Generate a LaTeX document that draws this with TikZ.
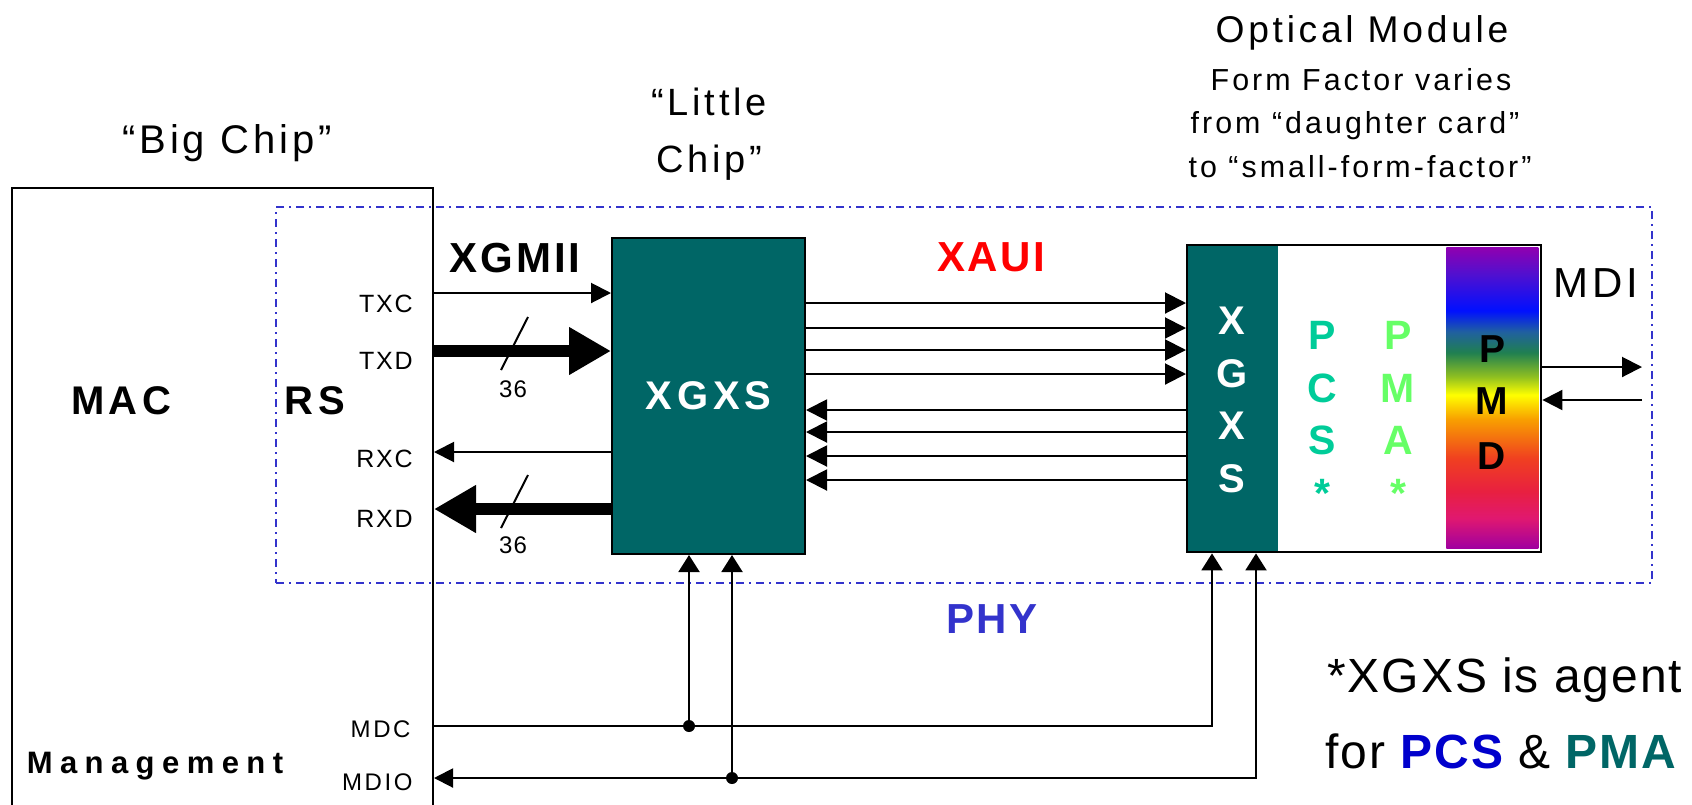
\documentclass[tikz,border=0pt]{standalone}
\usepackage{fontspec}
\setmainfont{Liberation Sans}[LetterSpace=10]
\usetikzlibrary{arrows.meta,positioning}

\definecolor{xgteal}{HTML}{006666}
\definecolor{phyblue}{HTML}{3333CC}
\definecolor{pcsgreen}{HTML}{00CC99}
\definecolor{pmagreen}{HTML}{66FF66}
\definecolor{pcsblue}{HTML}{0000CC}
\definecolor{xauired}{HTML}{FF0000}
% PMD spectrum, bottom to top
\definecolor{pmdA}{HTML}{A000A0}
\definecolor{pmdB}{HTML}{E01870}
\definecolor{pmdC}{HTML}{E82040}
\definecolor{pmdD}{HTML}{F04020}
\definecolor{pmdE}{HTML}{F8A000}
\definecolor{pmdF}{HTML}{FFFF00}
\definecolor{pmdG}{HTML}{90C020}
\definecolor{pmdH}{HTML}{208050}
\definecolor{pmdI}{HTML}{2060A0}
\definecolor{pmdJ}{HTML}{0010FF}
\definecolor{pmdK}{HTML}{5010D0}
\definecolor{pmdL}{HTML}{9000B0}
\pgfdeclareverticalshading{pmdshade}{100bp}{color(0bp)=(pmdA); color(25bp)=(pmdA);
  color(30bp)=(pmdB); color(34.5bp)=(pmdC); color(40bp)=(pmdD); color(46.5bp)=(pmdE);
  color(50.5bp)=(pmdF); color(53.5bp)=(pmdG); color(57.5bp)=(pmdH); color(61bp)=(pmdI);
  color(64.5bp)=(pmdJ); color(70.5bp)=(pmdK); color(75bp)=(pmdL); color(100bp)=(pmdL)}

\newcommand{\fsz}[1]{\fontsize{#1}{#1}\selectfont}

\tikzset{
  txt/.style={inner sep=0pt, anchor=base},
  pin/.style={txt, anchor=base east, font=\fsz{12.5}\addfontfeature{LetterSpace=7}},
  bold/.style 2 args={txt, font=\bfseries\fsz{#1}\addfontfeature{LetterSpace=#2}},
  sig/.style={line width=1pt, -{Triangle[length=10pt,width=10pt]}},
  bus/.style={line width=6pt, -{Triangle[length=21pt,width=22.5pt]}},
  lane/.style={line width=1pt, -{Triangle[length=10.5pt,width=10.5pt]}},
  mgmt/.style={line width=1pt, -{Triangle[length=8.5pt,width=10.5pt]}},
  block/.style={anchor=north west, inner sep=0pt},
}

\begin{document}
\begin{tikzpicture}[x=0.5pt, y=-0.5pt]
    \useasboundingbox (0,0) rectangle (1692,804);

    % headings
    \node[txt, font=\fsz{20}] (bigtitle) at (227,153) {“Big Chip”};
    \node[txt, font=\fsz{19}] (littletitle) at (709,115) {“Little};
    \node[txt, font=\fsz{19}] (littletitle2) at (709,172) {Chip”};
    \node[txt, font=\fsz{18.6}] (opttitle) at (1362,42) {Optical Module};
    \node[txt, font=\fsz{15.2}] (optform) at (1361,90) {Form Factor varies};
    \node[txt, font=\fsz{15.2}] (optfrom) at (1355,133) {from “daughter card”};
    \node[txt, font=\fsz{15.2}] (optto) at (1360,177) {to “small-form-factor”};

    % big chip and PHY boundary
    \node[block, draw, line width=1pt, minimum width=210.5pt, minimum height=312pt] (bigchip) at (11,187) {};
    \node[block, draw=phyblue, line width=1pt, dash pattern=on 4pt off 2.5pt on 1pt off 2.5pt,
          minimum width=688pt, minimum height=188pt] (phybox) at (275,206) {};

    \node[bold={20}{11}] (mac) at (121,414) {MAC};
    \node[bold={20}{12}] (rs) at (315,414) {RS};
    \node[bold={15.5}{24}] (mgmtlbl) at (155,773) {Management};
    \node[bold={21}{7}] (xgmii) at (515,272) {XGMII};
    \node[bold={21}{6}, text=xauired] (xaui) at (991,271) {XAUI};
    \node[bold={21}{5}, text=phyblue] (phy) at (992,633) {PHY};

    \node[pin] (txc) at (413,312) {TXC};
    \node[pin] (txd) at (413,369) {TXD};
    \node[pin] (rxc) at (413,467) {RXC};
    \node[pin] (rxd) at (413,527) {RXD};
    \node[pin, font=\fsz{12}\addfontfeature{LetterSpace=11}] (mdc) at (411,737) {MDC};
    \node[pin, font=\fsz{12}\addfontfeature{LetterSpace=11}] (mdio) at (413,790) {MDIO};

    % little chip
    \node[block, draw, line width=1pt, fill=xgteal, minimum width=96.5pt, minimum height=158pt,
          text=white, font=\bfseries\fsz{20}\addfontfeature{LetterSpace=12}] (xgxs) at (611,237) {XGXS};

    % optical module
    \node[block, fill=xgteal, minimum width=46pt, minimum height=153.5pt] (oxgxs) at (1186,244) {};
    \node[block, shade, shading=pmdshade, minimum width=46pt, minimum height=150.5pt] (pmd) at (1446,247) {};
    \node[block, draw, line width=1.2pt, minimum width=177pt, minimum height=153.5pt] (optmod) at (1186,244) {};
    \foreach \ch/\yy [count=\i] in {X/334,G/387,X/439,S/492}
        \node[bold={20}{0}, text=white] (oxg\i) at (1232,\yy) {\ch};
    \foreach \ch/\yy [count=\i] in {P/349,C/402,S/454,*/507}
        \node[bold={20.5}{0}, text=pcsgreen] (pcs\i) at (1322,\yy) {\ch};
    \foreach \ch/\yy [count=\i] in {P/349,M/402,A/454,*/507}
        \node[bold={20.5}{0}, text=pmagreen] (pma\i) at (1398,\yy) {\ch};
    \foreach \ch/\yy [count=\i] in {P/362,M/414,D/469}
        \node[bold={19.5}{0}] (pmd\i) at (1492,\yy) {\ch};
    \node[txt, font=\fsz{21}] (mdi) at (1596,297) {MDI};

    % XGMII
    \draw[sig] (bigchip.east |- 0,293) -- (xgxs.west |- 0,293);
    \draw[bus] (bigchip.east |- 0,351) -- (xgxs.west |- 0,351);
    \draw[sig] (xgxs.west |- 0,452) -- (bigchip.east |- 0,452);
    \draw[bus] (xgxs.west |- 0,509) -- (bigchip.east |- 0,509);
    \draw[line width=1pt] (528,317) -- (501,370);
    \draw[line width=1pt] (528,475) -- (501,528);
    \node[txt, font=\fsz{12}\addfontfeature{LetterSpace=5}] (txdwidth) at (513,397) {36};
    \node[txt, font=\fsz{12}\addfontfeature{LetterSpace=5}] (rxdwidth) at (513,553) {36};

    % XAUI lanes
    \foreach \yy in {303,328,350,374}
        \draw[lane] (xgxs.east |- 0,\yy) -- (oxgxs.west |- 0,\yy);
    \foreach \yy in {410,432,456,480}
        \draw[lane] (oxgxs.west |- 0,\yy) -- (xgxs.east |- 0,\yy);

    % MDI
    \coordinate (mdiout) at (1642,367);
    \coordinate (mdiin) at (1642,400);
    \draw[sig] (optmod.east |- mdiout) -- (mdiout);
    \draw[sig] (mdiin) -- (optmod.east |- mdiin);

    % management
    \coordinate (mdctap) at (689,726);
    \coordinate (mdiotap) at (732,778);
    \draw[mgmt] (bigchip.east |- mdctap) -| (optmod.south -| 1212,0);
    \draw[mgmt] (mdctap) -- (xgxs.south -| mdctap);
    \draw[mgmt, {Triangle[length=9.5pt,width=9.5pt]}-{Triangle[length=8.5pt,width=10.5pt]}]
        (bigchip.east |- mdiotap) -| (optmod.south -| 1256,0);
    \draw[mgmt] (mdiotap) -- (xgxs.south -| mdiotap);
    \fill (mdctap) circle (3pt);
    \fill (mdiotap) circle (3pt);

    % footnote
    \node[txt, anchor=base west, font=\fsz{24}\addfontfeature{LetterSpace=4}] (note1) at (1327,692) {*XGXS is agent};
    \node[txt, anchor=base west, font=\fsz{24}\addfontfeature{LetterSpace=4}] (note2) at (1325,768)
        {for {\bfseries\color{pcsblue}PCS} \& {\bfseries\color{xgteal}PMA}};
\end{tikzpicture}
\end{document}
